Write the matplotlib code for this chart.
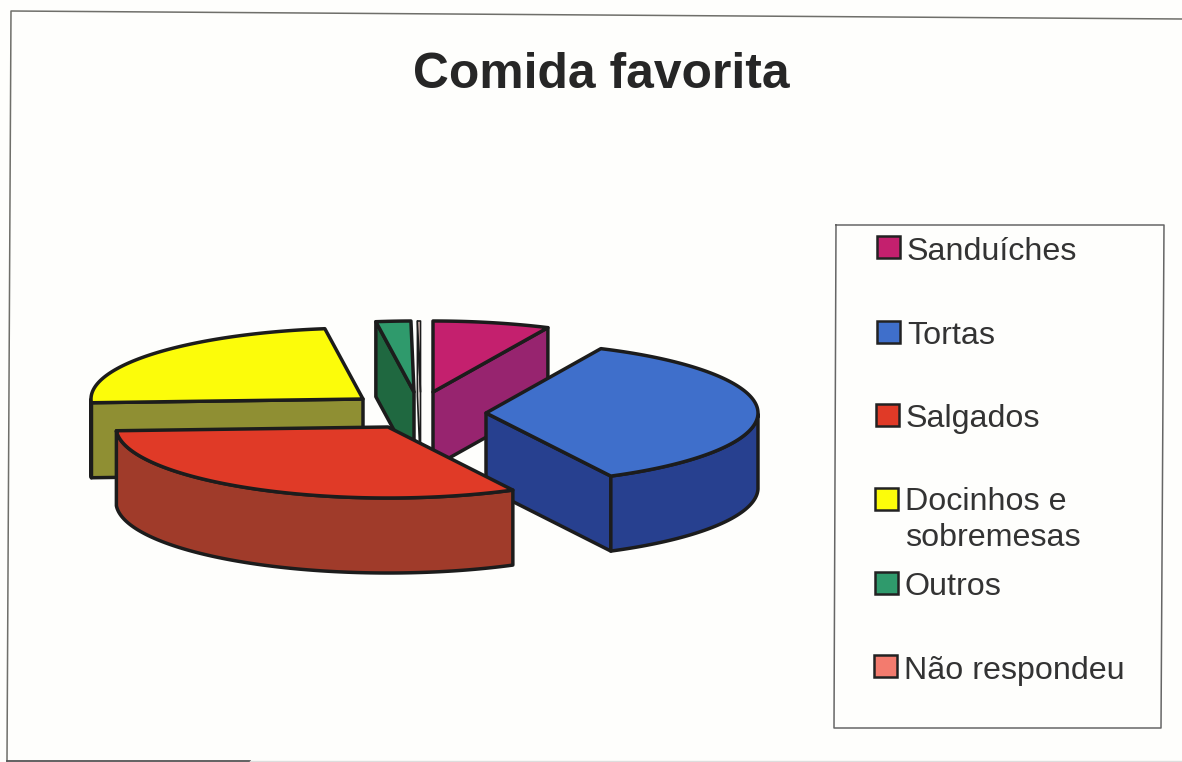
import numpy as np
import matplotlib
matplotlib.use("Agg")
import matplotlib.pyplot as plt
from matplotlib.patches import Rectangle

plt.rcParams['font.family'] = ['Liberation Sans', 'DejaVu Sans']

title = "Comida favorita"
categories = ["Sanduíches", "Tortas", "Salgados", "Docinhos e\nsobremesas", "Outros", "Não respondeu"]
shares = [6.94, 35.47, 31.75, 23.6, 2.06, 0.18]

top_colors = ["#C4206E", "#3F6FCB", "#E03A27", "#FCFC0A", "#2F9A6C", "#F9D8D2"]
side_colors = ["#97246F", "#27408F", "#A03B2A", "#8F8F33", "#1F6840", "#F2E6E2"]
line_widths = [2.5, 2.5, 2.5, 2.5, 2.5, 1.2]

# pie geometry, in pixels
CX, CY = 420, 395
RX, RY = 272, 71
DEPTH = 75
explode_x = [13, 66, -32, -57, -6, 0.5]
explode_y = [-3, 18, 32, 4, -3, -3]
draw_order = [5, 4, 0, 3, 1, 2]
INK = "#1c1c1c"

legend_y = [247, 332, 415, 499, 583, 666]
legend_x = [877, 877, 876, 875, 875, 874]
text_y = [252, 336, 419, 501, 587, 671]


def arc(x0, y0, t0, t1):
    t = np.linspace(t0, t1, max(int(abs(t1 - t0) * 60), 2))
    return x0 + RX * np.cos(t), y0 - RY * np.sin(t)


def draw_slice(ax, x0, y0, t0, t1, top, side, lw):
    px, py = arc(x0, y0, t0, t1)
    # cut faces, only those turned towards the viewer
    if np.cos(t0) < 0:
        ax.fill([x0, px[0], px[0], x0], [y0, py[0], py[0] + DEPTH, y0 + DEPTH],
                facecolor=side, edgecolor=INK, lw=lw, joinstyle="round")
    if np.cos(t1) > 0:
        ax.fill([x0, px[-1], px[-1], x0], [y0, py[-1], py[-1] + DEPTH, y0 + DEPTH],
                facecolor=side, edgecolor=INK, lw=lw, joinstyle="round")
    # outer wall on the front half of the ellipse
    front = np.sin(np.linspace(t0, t1, len(px))) <= 0
    if front.sum() > 1:
        wx, wy = px[front], py[front]
        ax.fill(np.r_[wx, wx[::-1]], np.r_[wy, wy[::-1] + DEPTH],
                facecolor=side, edgecolor=INK, lw=lw, joinstyle="round")
    ax.fill(np.r_[x0, px], np.r_[y0, py], facecolor=top, edgecolor=INK, lw=lw, joinstyle="round")


def main():
    fig = plt.figure(figsize=(11.82, 7.62), dpi=100, facecolor="#FEFEFC")
    ax = fig.add_axes([0, 0, 1, 1])
    ax.set_xlim(0, 1182)
    ax.set_ylim(762, 0)
    ax.axis("off")

    # chart frame, slightly skewed, bottom edge fading out
    ax.plot([1182, 11, 7, 7], [19, 11, 760, 761], color="#6f6f6a", lw=1.1)
    ax.plot([7, 250], [761, 761], color="#555555", lw=1.3)
    ax.plot([250, 1182], [761, 761], color="#dddddd", lw=1.0)

    ax.text(601, 75, title, ha="center", va="center", fontsize=35.8, fontweight="bold", color="#262626")

    # wedge angles run clockwise from twelve o'clock
    edges = np.pi / 2 - np.r_[0, np.cumsum(shares)] / np.sum(shares) * 2 * np.pi
    for i in draw_order:
        draw_slice(ax, CX + explode_x[i], CY + explode_y[i], edges[i], edges[i + 1],
                   top_colors[i], side_colors[i], line_widths[i])

    # legend, the last swatch keeps the stronger salmon tone
    ax.plot([836, 1164, 1161, 834, 836], [225, 225, 728, 728, 225], color="#666666", lw=1.1)
    swatches = top_colors[:5] + ["#F37B6E"]
    for i, name in enumerate(categories):
        ax.add_patch(Rectangle((legend_x[i], legend_y[i] - 11), 23, 22, facecolor=swatches[i],
                               edgecolor="#222222", lw=1.8))
        n_lines = name.count("\n")
        ax.text(legend_x[i] + 30, text_y[i] + n_lines * 19, name, ha="left", va="center",
                fontsize=23.2, color="#333333", linespacing=1.25)

    fig.savefig("out.png", dpi=100, facecolor=fig.get_facecolor())


if __name__ == "__main__":
    main()
